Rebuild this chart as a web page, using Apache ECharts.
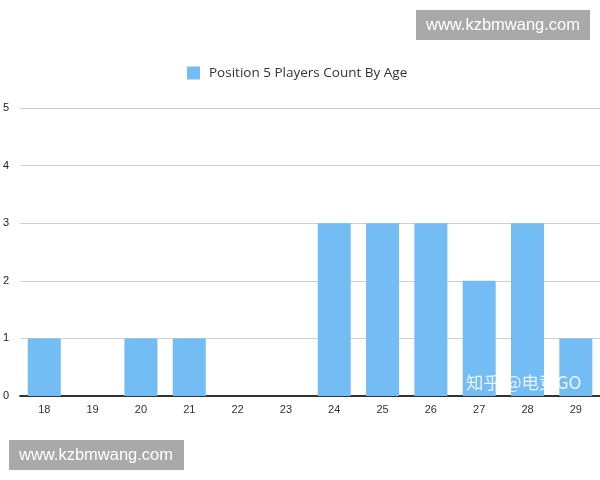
<!DOCTYPE html>
<html>
<head>
<meta charset="utf-8">
<script src="https://cdn.jsdelivr.net/npm/echarts@6/dist/echarts.min.js"></script>
<style>
  html, body { margin: 0; padding: 0; background: #fff; }
  #chart { width: 600px; height: 480px; }
</style>
</head>
<body>
<div id="chart"></div>
<script>
// 年龄分类
var ages = ["18", "19", "20", "21", "22", "23", "24", "25", "26", "27", "28", "29"];
// 每个年龄的人数
var counts = [1, 0, 1, 1, 0, 0, 3, 3, 3, 2, 3, 1];
var seriesName = "Position 5 Players Count By Age";

var myChart = echarts.init(document.getElementById("chart"));

var option = {
  animation: false,
  legend: {
    top: 61,
    left: 182,
    icon: "rect",
    itemWidth: 13,
    itemHeight: 13,
    textStyle: { color: "#333", fontSize: 13.5, fontFamily: "Open Sans", padding: [0, 0, 0, 4] },
    data: [seriesName]
  },
  grid: {
    left: 20,
    right: 0,
    top: 108,
    bottom: 84
  },
  xAxis: {
    type: "category",
    data: ages,
    axisLine: { lineStyle: { color: "#333", width: 2 } },
    axisTick: { show: false },
    axisLabel: { color: "#333", fontSize: 11, margin: 8, fontFamily: "Liberation Sans" }
  },
  yAxis: {
    type: "value",
    min: 0,
    max: 5,
    interval: 1,
    axisLine: { show: false },
    axisTick: { show: false },
    axisLabel: { color: "#222", fontSize: 11, margin: 11, fontFamily: "Liberation Sans" },
    splitLine: { lineStyle: { color: "#cfcfcf", width: 1 } }
  },
  series: [
    {
      name: seriesName,
      type: "bar",
      data: counts,
      barWidth: 33,
      itemStyle: { color: "#73bcf4" }
    }
  ],
  //水印
  graphic: [
    {
      type: "group",
      left: 416,
      top: 10,
      children: [
        { type: "rect", shape: { x: 0, y: 0, width: 174, height: 30 }, style: { fill: "#a9a9a9" } },
        { type: "text", x: 87, y: 15, style: { text: "www.kzbmwang.com", fill: "#fff", font: "16.5px Liberation Sans", align: "center", verticalAlign: "middle" } }
      ]
    },
    {
      type: "group",
      left: 9,
      top: 440,
      children: [
        { type: "rect", shape: { x: 0, y: 0, width: 175, height: 30 }, style: { fill: "#a9a9a9" } },
        { type: "text", x: 87, y: 15, style: { text: "www.kzbmwang.com", fill: "#fff", font: "16.5px Liberation Sans", align: "center", verticalAlign: "middle" } }
      ]
    },
    {
      type: "text",
      left: 466,
      top: 374,
      z: 100,
      style: {
        text: "知乎 @电竞GO",
        fill: "rgba(255,255,255,0.85)",
        font: "17.5px 'Noto Sans CJK SC'",
        shadowColor: "rgba(60,60,60,0.5)",
        shadowBlur: 2,
        shadowOffsetX: 1,
        shadowOffsetY: 1
      }
    }
  ]
};

myChart.setOption(option);
window.addEventListener("resize", function () { myChart.resize(); });
</script>
</body>
</html>
